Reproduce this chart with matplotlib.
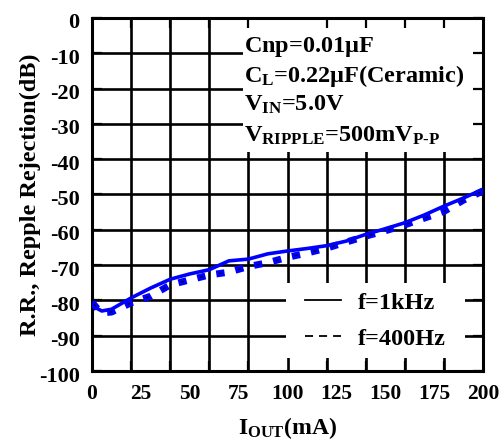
import matplotlib
matplotlib.use("Agg")
import matplotlib.pyplot as plt
from matplotlib.lines import Line2D
from matplotlib.patches import Rectangle
import matplotlib.transforms as mtrans

plt.rcParams['font.family'] = ['Liberation Serif', 'DejaVu Serif']
plt.rcParams['font.weight'] = 'bold'
plt.rcParams['mathtext.fontset'] = 'custom'
plt.rcParams['mathtext.rm'] = 'Liberation Serif:bold'
plt.rcParams['mathtext.it'] = 'Liberation Serif:bold'
plt.rcParams['mathtext.bf'] = 'Liberation Serif:bold'
plt.rcParams['lines.scale_dashes'] = False

# data
iout_1k = [0, 5, 10, 20, 30, 40, 50, 60, 70, 80, 90, 100, 110, 120, 130, 140, 150, 160, 170, 180, 190, 200]
rr_1k = [-81.5, -83.0, -82.5, -79.3, -76.5, -74.0, -72.5, -71.3, -68.8, -68.3, -66.8, -66.0, -65.3, -64.5,
         -63.2, -61.3, -59.7, -58.0, -55.8, -53.3, -51.0, -48.5]
iout_400 = [0, 3, 6, 10, 20, 30, 40, 50, 60, 70, 80, 90, 100, 110, 120, 130, 140, 150, 160, 170, 180, 190, 200]
rr_400 = [-80.5, -82.5, -83.5, -83.3, -80.7, -78.8, -75.6, -74.2, -72.8, -72.0, -70.4, -69.3, -67.8, -66.6,
          -65.2, -63.5, -61.8, -60.3, -58.6, -56.7, -54.8, -51.6, -49.0]
xtick_labels = [0, 25, 50, 75, 100, 125, 150, 175, 200]
ytick_labels = [0, -10, -20, -30, -40, -50, -60, -70, -80, -90, -100]
grid_x = [0, 20, 40, 60, 80, 100, 120, 140, 160, 180, 200]

W, H = 503, 448
fig = plt.figure(figsize=(W / 100, H / 100), dpi=100)
L, R, T, B = 92, 483, 18, 371
ax = fig.add_axes([L / W, 1 - B / H, (R - L) / W, (B - T) / H])
ax.set_xlim(0, 200)
ax.set_ylim(-100, 0)

# manual grid
for gx in grid_x[1:-1]:
    ax.axvline(gx, color='black', lw=1.9, zorder=1)
for gy in ytick_labels[1:-1]:
    ax.axhline(gy, color='black', lw=1.9, zorder=1)

# white boxes covering grid
ax.add_patch(Rectangle((77.0, -38.0), 125, 40, facecolor='white', edgecolor='none', zorder=1.5))
ax.add_patch(Rectangle((99.0, -96.3), 91.8, 21.2, facecolor='white', edgecolor='none', zorder=1.5))

# data lines
ax.plot(iout_1k, rr_1k, color='#0000ff', lw=2.6, zorder=3, solid_capstyle='butt')
ax.plot(iout_400, rr_400, color='#0000ff', lw=5.0, zorder=3, dash_capstyle='butt',
        linestyle=(0, (6.0, 8.0)))
ax.plot(iout_400, rr_400, color='black', lw=0.8, zorder=3.5, dash_capstyle='butt',
        linestyle=(-2.0, (2.0, 12.0)))

# ticks
ax.set_yticks(ytick_labels)
ax.set_yticklabels([str(v) for v in ytick_labels])
ax.set_xticks(xtick_labels)
ax.set_xticklabels([str(v) for v in xtick_labels])
ax.set_xticks(grid_x, minor=True)
ax.tick_params(axis='x', which='major', length=0, pad=9, labelsize=15.5)
ax.tick_params(axis='x', which='minor', direction='in', length=7, width=1.6, top=True, bottom=True)
ax.tick_params(axis='y', which='major', direction='in', length=7, width=1.6, left=True, right=True,
               labelsize=16, pad=9)
off = mtrans.ScaledTranslation(0, -3 / 100, fig.dpi_scale_trans)
for lab in ax.get_yticklabels():
    lab.set_fontweight('bold')
    lab.set_transform(lab.get_transform() + off)
for lab in ax.get_xticklabels():
    lab.set_fontweight('bold')
for s in ax.spines.values():
    s.set_linewidth(2.2)
ax.set_axisbelow(False)

ax.set_xlabel(r'I$_{\mathrm{OUT}}$(mA)', fontsize=17, fontweight='bold', labelpad=8)
ax.set_ylabel('R.R., Repple Rejection(dB)', fontsize=17.5, fontweight='bold')
ax.yaxis.set_label_coords((41 - L) / (R - L), 0.5)

# annotation text
txt_kw = dict(fontsize=17.5, fontweight='bold', ha='left', va='baseline', zorder=4)
ax.text(77.5, -9.6, r'Cnp=0.01$\mu$F', **txt_kw)
ax.text(77.5, -18.1, r'C$_{\mathrm{L}}$=0.22$\mu$F(Ceramic)', **txt_kw)
ax.text(77.5, -26.3, r'V$_{\mathrm{IN}}$=5.0V', **txt_kw)
ax.text(77.5, -35.1, r'V$_{\mathrm{RIPPLE}}$=500mV$_{\mathrm{P\text{-}P}}$', **txt_kw)

# legend
handles = [Line2D([], [], color='black', lw=1.3),
           Line2D([], [], color='black', lw=1.3, linestyle=(0, (5.8, 4.3)))]
leg = ax.legend(handles, ['f=1kHz', 'f=400Hz'], loc='upper left', bbox_to_anchor=(0.545, 0.224),
                frameon=False, fontsize=17.5, handlelength=1.48, handletextpad=0.7,
                labelspacing=0.57, borderpad=0, borderaxespad=0)
for t in leg.get_texts():
    t.set_fontweight('bold')
leg.set_zorder(4)

fig.savefig('out.png', dpi=100)
